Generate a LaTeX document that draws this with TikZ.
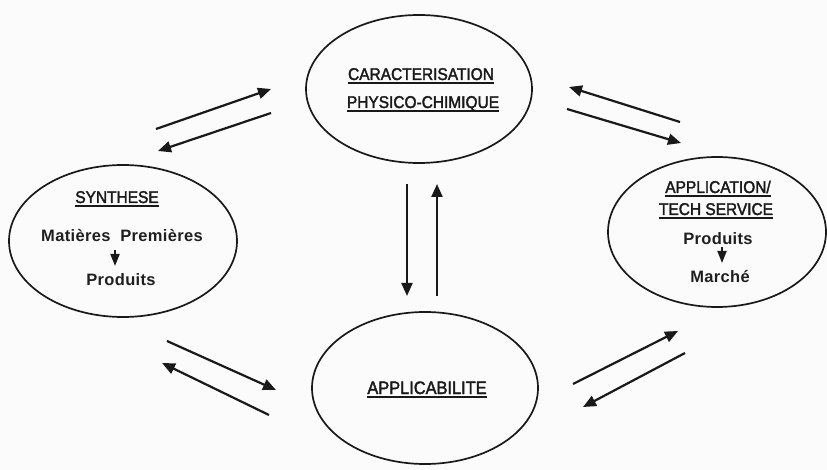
\documentclass[tikz,border=0pt]{standalone}
\usepackage{fontspec}
\setmainfont{Liberation Sans}
\newfontfamily\titlefont[FakeBold=2,FakeStretch=0.91]{Liberation Sans}
\newfontfamily\bodyfont[LetterSpace=2]{Liberation Sans}
\usetikzlibrary{shapes.geometric,arrows.meta}
\newcommand\myul[1]{\leavevmode\setbox0=\hbox{#1}\rlap{\rule[-3.6pt]{\wd0}{1.6pt}}\box0}
\tikzset{
  oval/.style={ellipse, draw=black!90, line width=1.7pt, inner sep=0pt},
  title/.style={anchor=base, inner sep=0pt, font=\titlefont\fontsize{17}{20}\selectfont, text=black!90},
  body/.style={anchor=base, inner sep=0pt, font=\bodyfont\bfseries\fontsize{16.5}{20}\selectfont, text=black!88},
  flow/.style={line width=2.2pt, draw=black!90, -{Triangle[length=13pt,width=11pt]}},
  mini/.style={line width=1.8pt, draw=black!90, -{Triangle[length=12pt,width=9pt]}}
}
\begin{document}
\begin{tikzpicture}[x=1pt,y=-1pt]
\useasboundingbox[fill=gray!3] (0,0) rectangle (827,470);
% ellipses
\node[oval, minimum width=226pt, minimum height=148pt] (car) at (419,89) {};
\node[oval, minimum width=228pt, minimum height=152pt] (syn) at (123,241) {};
\node[oval, minimum width=218pt, minimum height=150pt] (app) at (717,232) {};
\node[oval, minimum width=226pt, minimum height=152pt] (abl) at (425,388) {};
% texts
\node[title] (t1) at (421,80) {\myul{CARACTERISATION}};
\node[title] (t2) at (423,108) {\myul{PHYSICO-CHIMIQUE}};
\node[title] (t3) at (117,203) {\myul{SYNTHESE}};
\node[body] (t4) at (122,242) {Matières\ \ Premières};
\node[body] (t5) at (121,286) {Produits};
\node[title] (t6) at (718,193) {\myul{APPLICATION/}};
\node[title] (t7) at (716,215) {\myul{TECH SERVICE}};
\node[body] (t8) at (718,245) {Produits};
\node[body] (t9) at (720,283) {Marché};
\node[title, font=\titlefont\fontsize{18}{20}\selectfont] (t10) at (427,394) {\myul{APPLICABILITE}};
% inner arrows
\coordinate (m1s) at (115,250); \coordinate (m1e) at (115,266);
\coordinate (m2s) at (722,247); \coordinate (m2e) at (722,263);
\draw[mini] (m1s) -- (m1e);
\draw[mini] (m2s) -- (m2e);
% arrow end points
\coordinate (a1) at (156,129); \coordinate (a2) at (271,89);
\coordinate (b1) at (271,113); \coordinate (b2) at (158,151);
\coordinate (c1) at (407,184); \coordinate (c2) at (407,296);
\coordinate (d1) at (437,296); \coordinate (d2) at (437,184);
\coordinate (e1) at (680,122); \coordinate (e2) at (569,87);
\coordinate (f1) at (567,109); \coordinate (f2) at (681,143);
\coordinate (g1) at (167,341); \coordinate (g2) at (276,390);
\coordinate (h1) at (269,415); \coordinate (h2) at (162,363);
\coordinate (i1) at (573,384); \coordinate (i2) at (678,331);
\coordinate (j1) at (685,353); \coordinate (j2) at (583,407);
\draw[flow] (a1) -- (a2);
\draw[flow] (b1) -- (b2);
\draw[flow] (c1) -- (c2);
\draw[flow] (d1) -- (d2);
\draw[flow] (e1) -- (e2);
\draw[flow] (f1) -- (f2);
\draw[flow] (g1) -- (g2);
\draw[flow] (h1) -- (h2);
\draw[flow] (i1) -- (i2);
\draw[flow] (j1) -- (j2);
\end{tikzpicture}
\end{document}
